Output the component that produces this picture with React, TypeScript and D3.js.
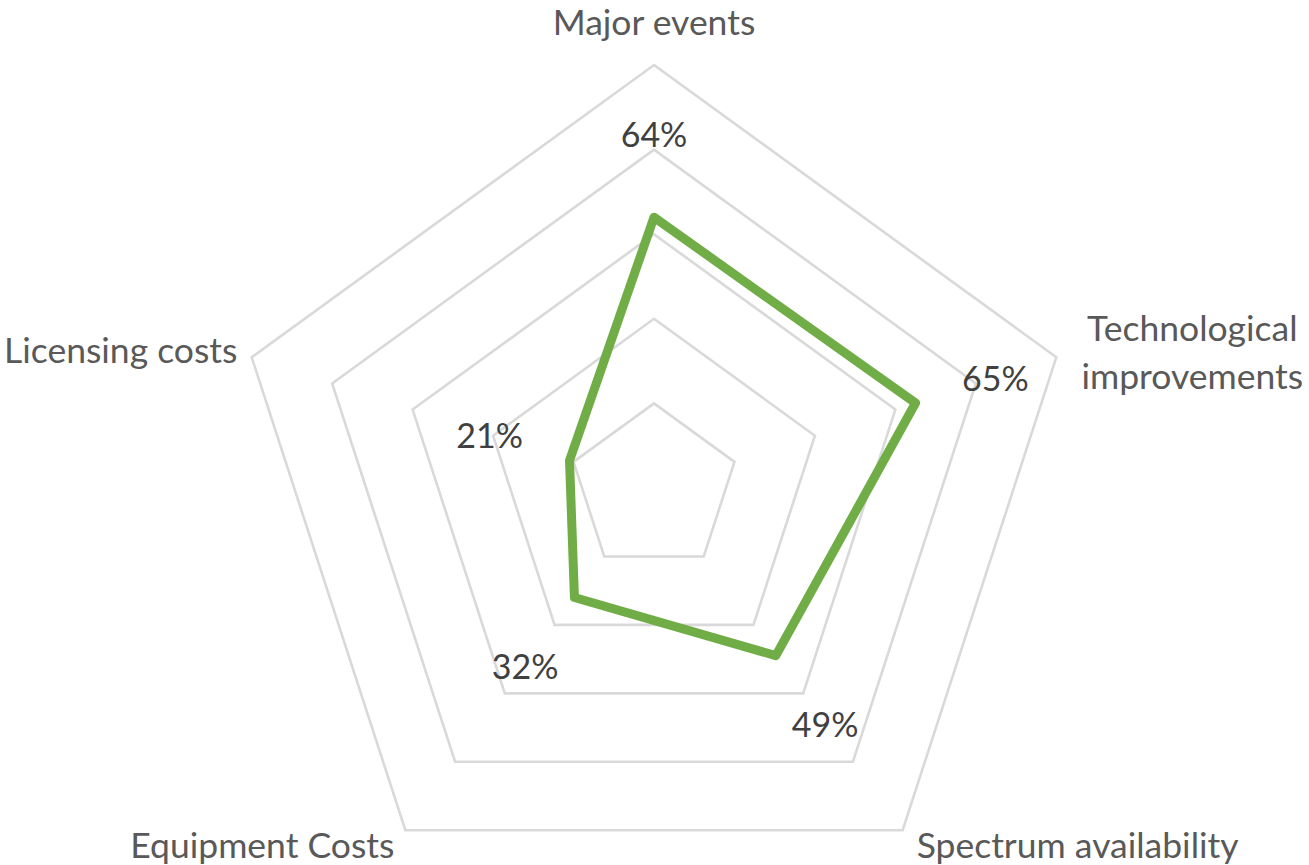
import React, { useEffect, useRef } from 'react';
import * as d3 from 'd3';

const categories = [
  'Major events',
  'Technological improvements',
  'Spectrum availability',
  'Equipment Costs',
  'Licensing costs',
];
const values = [0.64, 0.65, 0.49, 0.32, 0.21];
const gridLevels = [0.2, 0.4, 0.6, 0.8, 1.0];

const App = () => {
  const ref = useRef<SVGSVGElement>(null);

  useEffect(() => {
    const width = 1309;
    const height = 865;
    const cx = 654;
    const cy = 488;
    const radius = 423;
    const font = 'Lato, "Open Sans", sans-serif';

    const svg = d3.select(ref.current);
    svg.selectAll('*').remove();
    svg.attr('width', width).attr('height', height);

    const r = d3.scaleLinear().domain([0, 1]).range([0, radius]);
    const angle = d3
      .scaleLinear()
      .domain([0, categories.length])
      .range([0, 2 * Math.PI]);

    const g = svg.append('g').attr('transform', `translate(${cx},${cy})`);

    const ring = d3
      .lineRadial<number>()
      .angle((_, i) => angle(i))
      .curve(d3.curveLinearClosed);

    // grid rings
    gridLevels.forEach((lv) => {
      g.append('path')
        .attr('d', ring.radius(() => r(lv))(categories.map(() => lv)))
        .attr('fill', 'none')
        .attr('stroke', '#d9d9d9')
        .attr('stroke-width', 2.6);
    });

    // data line
    const dataLine = d3
      .lineRadial<number>()
      .angle((_, i) => angle(i))
      .radius((d) => r(d))
      .curve(d3.curveLinearClosed);

    g.append('path')
      .attr('d', dataLine(values))
      .attr('fill', 'none')
      .attr('stroke', '#70ad47')
      .attr('stroke-width', 9)
      .attr('stroke-linejoin', 'round');

    const pos = (i: number, rr: number) => {
      const a = angle(i);
      return [rr * Math.sin(a), -rr * Math.cos(a)];
    };

    // data labels
    values.forEach((v, i) => {
      const [x, y] = pos(i, r(v) + 84);
      g.append('text')
        .attr('x', x)
        .attr('y', y)
        .attr('text-anchor', 'middle')
        .attr('dominant-baseline', 'central')
        .attr('font-family', font)
        .attr('font-size', 34)
        .attr('fill', '#404040')
        .text(`${Math.round(v * 100)}%`);
    });

    // category labels
    const catStyle = (t: d3.Selection<SVGTextElement, unknown, null, undefined>) =>
      t.attr('font-family', font).attr('font-size', 35.5).attr('fill', '#595959');

    const [x0, y0] = pos(0, radius);
    catStyle(g.append('text'))
      .attr('x', x0)
      .attr('y', y0 - 30)
      .attr('text-anchor', 'middle')
      .text(categories[0]);

    const [x1, y1] = pos(1, radius);
    const tech = catStyle(g.append('text')).attr('text-anchor', 'middle');
    tech.append('tspan').attr('x', x1 + 136).attr('y', y1 - 16).text('Technological');
    tech.append('tspan').attr('x', x1 + 136).attr('y', y1 + 32).text('improvements');

    const [x2, y2] = pos(2, radius);
    catStyle(g.append('text'))
      .attr('x', x2 + 175)
      .attr('y', y2 + 28)
      .attr('text-anchor', 'middle')
      .text(categories[2]);

    const [x3, y3] = pos(3, radius);
    catStyle(g.append('text'))
      .attr('x', x3 - 143)
      .attr('y', y3 + 28)
      .attr('text-anchor', 'middle')
      .text(categories[3]);

    const [x4, y4] = pos(4, radius);
    catStyle(g.append('text'))
      .attr('x', x4 - 131)
      .attr('y', y4 + 6)
      .attr('text-anchor', 'middle')
      .text(categories[4]);
  }, []);

  return (
    <div>
      <svg ref={ref} style={{ position: 'absolute', left: 0, top: 0 }} />
    </div>
  );
};

export default App;
